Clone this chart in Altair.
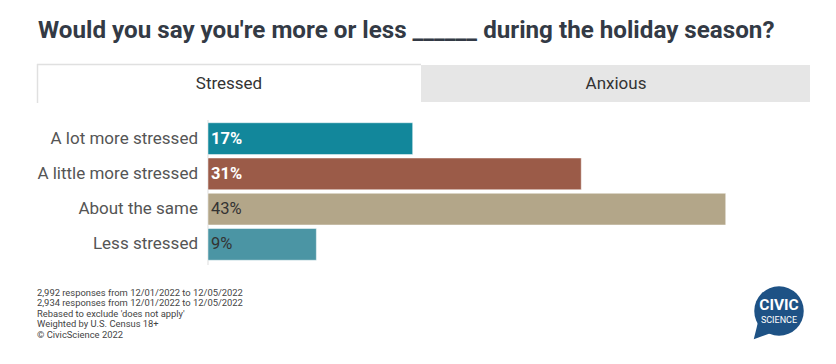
import altair as alt
import pandas as pd

# ---- data ----
categories = ["A lot more stressed", "A little more stressed", "About the same", "Less stressed"]
values = [17, 31, 43, 9]
bar_colors = ["#12879b", "#9b5b48", "#b3a689", "#4b95a4"]
label_colors = ["#ffffff", "#ffffff", "#333333", "#333333"]
label_bold = [True, True, False, False]
tabs = ["Stressed", "Anxious"]
title_text = "Would you say you're more or less ______ during the holiday season?"
footnotes = [
    "2,992 responses from 12/01/2022 to 12/05/2022",
    "2,934 responses from 12/01/2022 to 12/05/2022",
    "Rebased to exclude 'does not apply'",
    "Weighted by U.S. Census 18+",
    "\u00a9 CivicScience 2022",
]
logo_lines = ["CIVIC", "SCIENCE"]

df = pd.DataFrame({
    "category": categories,
    "value": values,
    "color": bar_colors,
    "label": [f"{v}%" for v in values],
    "lcolor": label_colors,
    "bold": label_bold,
})
one = pd.DataFrame({"a": [0]})
FONT = "Roboto"

xs = alt.Scale(domain=[0, 50], range=[200, 802])
ys = alt.Scale(domain=categories, range=[113, 254], paddingInner=0.1, paddingOuter=0.05)
Y = alt.Y("category:N", sort=categories, scale=ys, axis=None)

# title
title = alt.Chart(one).mark_text(
    align="left", baseline="alphabetic", font=FONT, fontSize=24.2, fontWeight="bold", color="#333a45"
).encode(x=alt.value(30), y=alt.value(30), text=alt.value(title_text))

# tabs
tab_gray = alt.Chart(one).mark_rect(color="#e6e6e6").encode(
    x=alt.value(413), x2=alt.value(802), y=alt.value(57), y2=alt.value(94))
tab_left = alt.Chart(one).mark_rule(color="#e0e0e0", strokeWidth=1.5).encode(
    x=alt.value(29.5), y=alt.value(56), y2=alt.value(95))
tab_top = alt.Chart(one).mark_rule(color="#e0e0e0", strokeWidth=1.5).encode(
    x=alt.value(29), x2=alt.value(413), y=alt.value(56.5))
tab_text1 = alt.Chart(one).mark_text(font=FONT, fontSize=17, color="#333333", baseline="middle").encode(
    x=alt.value(221), y=alt.value(76), text=alt.value(tabs[0]))
tab_text2 = alt.Chart(one).mark_text(font=FONT, fontSize=17, color="#333333", baseline="middle").encode(
    x=alt.value(608), y=alt.value(76), text=alt.value(tabs[1]))

# axis rule
axis_rule = alt.Chart(one).mark_rule(color="#dddddd", strokeWidth=1).encode(
    x=alt.value(200), y=alt.value(112), y2=alt.value(257))

base = alt.Chart(df)
bars = base.mark_bar(stroke="#ffffff", strokeWidth=0.8, strokeOpacity=0.6).encode(
    x=alt.X("value:Q", scale=xs, axis=None), x2=alt.datum(0), y=Y,
    color=alt.Color("color:N", scale=None))
cat_labels = base.mark_text(align="right", baseline="middle", font=FONT, fontSize=17, color="#555555").encode(
    x=alt.value(190), y=Y, text="category:N")
val_bold = base.mark_text(align="left", baseline="middle", font=FONT, fontSize=16.5, fontWeight="bold").encode(
    x=alt.value(203), y=Y, text="label:N", color=alt.Color("lcolor:N", scale=None)
).transform_filter("datum.bold")
val_norm = base.mark_text(align="left", baseline="middle", font=FONT, fontSize=16.5).encode(
    x=alt.value(203), y=Y, text="label:N", color=alt.Color("lcolor:N", scale=None)
).transform_filter("!datum.bold")

# footnotes
foot = alt.Chart(one).mark_text(
    align="left", baseline="top", font=FONT, fontSize=9.4, lineHeight=10.4, color="#444444"
).encode(x=alt.value(29), y=alt.value(281), text=alt.value(footnotes))

# logo
logo_circle = alt.Chart(one).mark_point(shape="circle", filled=True, opacity=1, color="#1e5285", size=2450, strokeWidth=0).encode(
    x=alt.value(771), y=alt.value(303))
logo_tail = alt.Chart(one).mark_point(shape="M-0.85,0.45 L-1.02,1.14 L-0.35,0.9 Z", filled=True, opacity=1,
                                      color="#1e5285", size=2450, strokeWidth=0).encode(
    x=alt.value(771), y=alt.value(303))
logo_t1 = alt.Chart(one).mark_text(font=FONT, fontSize=15.5, fontWeight="bold", color="#ffffff", baseline="alphabetic").encode(
    x=alt.value(771), y=alt.value(302), text=alt.value(logo_lines[0]))
logo_t2 = alt.Chart(one).mark_text(font=FONT, fontSize=9, color="#ffffff", baseline="alphabetic").encode(
    x=alt.value(771), y=alt.value(314.5), text=alt.value(logo_lines[1]))

chart = alt.layer(
    title, tab_gray, tab_left, tab_top, tab_text1, tab_text2, axis_rule,
    bars, cat_labels, val_bold, val_norm, foot,
    logo_circle, logo_tail, logo_t1, logo_t2
).properties(
    width=820, height=348, autosize=alt.AutoSizeParams(type="none"), padding=0, background="#ffffff"
).configure_view(strokeWidth=0)

chart.save("out.html", embed_options={"renderer": "svg", "actions": False})
